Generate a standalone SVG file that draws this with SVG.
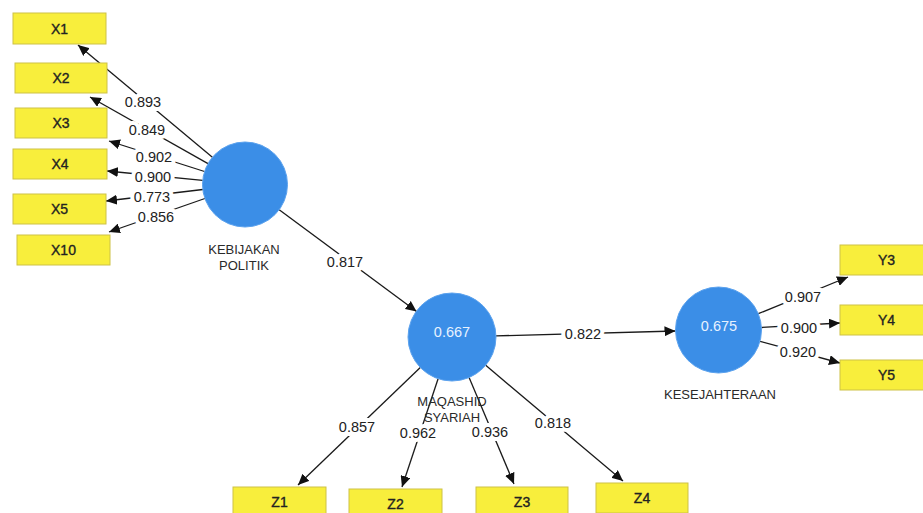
<svg xmlns="http://www.w3.org/2000/svg" width="923" height="513" viewBox="0 0 923 513">
<defs>
<marker id="ah" markerUnits="userSpaceOnUse" markerWidth="12" markerHeight="10" refX="11" refY="5" orient="auto">
<path d="M0,0 L11,5 L0,10 Z" fill="#111"/>
</marker>
<style>
.box{fill:#f8ee3c;stroke:#cdc247;stroke-width:1}
.bt{font-family:"Liberation Sans",Arial,sans-serif;font-size:14px;fill:#222;stroke:#222;stroke-width:0.35;text-anchor:middle}
.lv{fill:#3b8ee7;stroke:#5ba2ee;stroke-width:1}
.lvt{font-family:"Liberation Sans",Arial,sans-serif;font-size:14.5px;fill:#e8f2ff;text-anchor:middle}
.nl{font-family:"Liberation Sans",Arial,sans-serif;font-size:13px;fill:#2a2a2a;text-anchor:middle}
.e{stroke:#1a1a1a;stroke-width:1.3;fill:none;marker-end:url(#ah)}
.el{font-family:"Liberation Sans",Arial,sans-serif;font-size:14.5px;fill:#222;text-anchor:middle;stroke:#fff;stroke-width:8;paint-order:stroke;stroke-linejoin:round}
</style>
</defs>
<rect width="923" height="513" fill="#fff"/>
<g id="connectors">
<line class="e" x1="212.4" y1="157.3" x2="78" y2="45"/>
<line class="e" x1="208" y1="163.6" x2="90" y2="97"/>
<line class="e" x1="204.5" y1="171.5" x2="109" y2="141"/>
<line class="e" x1="202.7" y1="180.4" x2="107" y2="171"/>
<line class="e" x1="202.8" y1="189.5" x2="106" y2="201"/>
<line class="e" x1="204.9" y1="198.5" x2="109" y2="232"/>
<line class="e" x1="279.2" y1="209.7" x2="416.6" y2="311.5"/>
<line class="e" x1="496" y1="335.9" x2="675.5" y2="331"/>
<line class="e" x1="758.3" y1="313.7" x2="848" y2="277"/>
<line class="e" x1="761.4" y1="327.5" x2="840" y2="323"/>
<line class="e" x1="760" y1="341.3" x2="840" y2="363"/>
<line class="e" x1="420.3" y1="367.5" x2="298" y2="485"/>
<line class="e" x1="438.1" y1="378.8" x2="402" y2="487"/>
<line class="e" x1="469.1" y1="377.6" x2="514" y2="484"/>
<line class="e" x1="485.7" y1="365.3" x2="623" y2="481"/>
<text class="el" x="143" y="107">0.893</text>
<text class="el" x="147" y="135">0.849</text>
<text class="el" x="154" y="162">0.902</text>
<text class="el" x="153" y="182">0.900</text>
<text class="el" x="152" y="202">0.773</text>
<text class="el" x="156" y="222">0.856</text>
<text class="el" x="345" y="267">0.817</text>
<text class="el" x="583" y="339">0.822</text>
<text class="el" x="803" y="302">0.907</text>
<text class="el" x="799" y="333">0.900</text>
<text class="el" x="798" y="357">0.920</text>
<text class="el" x="357" y="432">0.857</text>
<text class="el" x="418" y="438">0.962</text>
<text class="el" x="490" y="437">0.936</text>
<text class="el" x="553" y="428">0.818</text>
</g>
<g id="X1"><rect class="box" x="13" y="13" width="93" height="31"/><text class="bt" x="59.5" y="33.5">X1</text></g>
<g id="X2"><rect class="box" x="15" y="63" width="92" height="30"/><text class="bt" x="61" y="83">X2</text></g>
<g id="X3"><rect class="box" x="15" y="108" width="92" height="30"/><text class="bt" x="61" y="128">X3</text></g>
<g id="X4"><rect class="box" x="13" y="149" width="94" height="30"/><text class="bt" x="60" y="169">X4</text></g>
<g id="X5"><rect class="box" x="13" y="194" width="93" height="30"/><text class="bt" x="59.5" y="214">X5</text></g>
<g id="X10"><rect class="box" x="17" y="235" width="93" height="30"/><text class="bt" x="63.5" y="255">X10</text></g>
<g id="Y3"><rect class="box" x="840" y="245" width="93" height="30"/><text class="bt" x="886.5" y="265">Y3</text></g>
<g id="Y4"><rect class="box" x="840" y="305" width="93" height="30"/><text class="bt" x="886.5" y="325">Y4</text></g>
<g id="Y5"><rect class="box" x="840" y="360" width="93" height="30"/><text class="bt" x="886.5" y="380">Y5</text></g>
<g id="Z1"><rect class="box" x="233" y="487" width="93" height="30"/><text class="bt" x="279.5" y="507">Z1</text></g>
<g id="Z2"><rect class="box" x="349" y="489" width="93" height="30"/><text class="bt" x="395.5" y="509">Z2</text></g>
<g id="Z3"><rect class="box" x="476" y="487" width="92" height="30"/><text class="bt" x="522" y="507">Z3</text></g>
<g id="Z4"><rect class="box" x="596" y="483" width="92" height="30"/><text class="bt" x="642" y="503">Z4</text></g>
<g id="KEBIJAKAN_POLITIK"><circle class="lv" cx="245" cy="184.5" r="42.5"/><text class="nl" x="244" y="253.5">KEBIJAKAN</text><text class="nl" x="244" y="270">POLITIK</text></g>
<g id="MAQASHID_SYARIAH"><circle class="lv" cx="452" cy="337" r="44"/><text class="lvt" x="452" y="337">0.667</text><text class="nl" x="452" y="405.5">MAQASHID</text><text class="nl" x="452" y="421.5">SYARIAH</text></g>
<g id="KESEJAHTERAAN"><circle class="lv" cx="718.5" cy="330" r="43"/><text class="lvt" x="719" y="330.5">0.675</text><text class="nl" x="720" y="398.5">KESEJAHTERAAN</text></g>
</svg>
